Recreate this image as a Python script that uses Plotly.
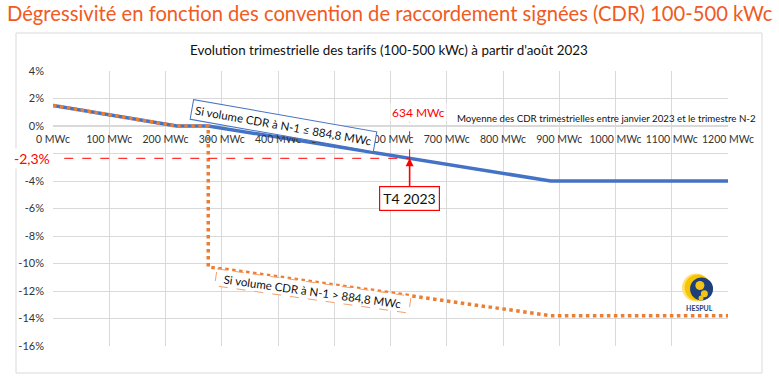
import math
import plotly.graph_objects as go

# ---------------- data ----------------
X_BLUE = [0, 220, 276, 884.8, 1200]
Y_BLUE = [1.5, 0, 0, -4, -4]
X_ORANGE = [0, 220, 276, 276, 884.8, 1200]
Y_ORANGE = [1.5, 0, 0, -10.25, -13.8, -13.8]

X_TICKS = [0, 100, 200, 300, 400, 500, 600, 700, 800, 900, 1000, 1100, 1200]
X_TICK_LABELS = ["0 MWc", "100 MWc", "200 MWc", "300 MWc", "400 MWc", "500 MWc", "600 MWc",
                 "700 MWc", "800 MWc", "900 MWc", "1000 MWc", "1100 MWc", "1200 MWc"]
Y_TICKS = [4, 2, 0, -2, -4, -6, -8, -10, -12, -14, -16]
Y_TICK_LABELS = ["4%", "2%", "0%", "", "-4%", "-6%", "-8%", "-10%", "-12%", "-14%", "-16%"]

CURRENT_MW = 634
CURRENT_PCT = -2.35
CURRENT_LABEL = "-2,3%"
CURRENT_MW_LABEL = "634 MWc"
QUARTER_LABEL = "T4 2023"

TITLE = "Dégressivité en fonction des convention de raccordement signées (CDR) 100-500 kWc"
SUBTITLE = "Evolution trimestrielle des tarifs (100-500 kWc) à partir d'août 2023"
XNOTE = "Moyenne des CDR trimestrielles entre janvier 2023 et le trimestre N-2"
LABEL_BLUE = "Si volume CDR à N-1 ≤ 884,8 MWc"
LABEL_ORANGE = "Si volume CDR à N-1 > 884,8 MWc"

# ---------------- styling ----------------
FONT = "Lato"
BLUE = "#4472C4"
ORANGE = "#ED7D31"
RED = "#FF0000"
GRID = "#D9D9D9"

W, H = 779, 381
L, R, T, B = 53, 51, 71, 35
PW, PH = W - L - R, H - T - B


def px_x(px):
    return (px - L) / PW


def px_y(py):
    return (H - B - py) / PH


fig = go.Figure()
fig.add_trace(go.Scatter(x=X_BLUE, y=Y_BLUE, mode="lines",
                         line=dict(color=BLUE, width=3.5), hoverinfo="skip"))
fig.add_trace(go.Scatter(x=X_ORANGE, y=Y_ORANGE, mode="lines",
                         line=dict(color=ORANGE, width=3.5, dash="dot"), hoverinfo="skip"))

shapes = []
# outer chart frame
shapes.append(dict(type="rect", xref="paper", yref="paper",
                   x0=px_x(16), x1=px_x(762), y0=px_y(373), y1=px_y(33),
                   line=dict(color="#D9D9D9", width=1), layer="below"))
# red dashed guides
shapes.append(dict(type="line", xref="x", yref="y", x0=20, x1=CURRENT_MW,
                   y0=CURRENT_PCT, y1=CURRENT_PCT,
                   line=dict(color=RED, width=1, dash="dash")))
shapes.append(dict(type="line", xref="x", yref="y", x0=CURRENT_MW, x1=CURRENT_MW,
                   y0=CURRENT_PCT, y1=0.3,
                   line=dict(color=RED, width=1, dash="dash")))

# dashed rotated box for the orange label
ox, oy = 462, -12.0
th = math.radians(8)
hl, hh = 98, 8.5
pts = []
for u, v in [(-hl, hh), (hl, hh), (hl, -hh), (-hl, -hh)]:
    xx = u * math.cos(th) + v * math.sin(th)
    yy = -u * math.sin(th) + v * math.cos(th)
    pts.append((xx, yy))
path = "M " + " L ".join(f"{a:.1f},{b:.1f}" for a, b in pts) + " Z"
shapes.append(dict(type="path", xref="x", yref="y", xsizemode="pixel", ysizemode="pixel",
                   xanchor=ox, yanchor=oy, path=path, fillcolor="white",
                   line=dict(color="#F4A06A", width=1, dash="dash"), layer="above"))

# HESPUL logo (approximation)
def circle(cx, cy, r, color):
    return dict(type="circle", xref="x", yref="y", xsizemode="pixel", ysizemode="pixel",
                xanchor=cx, yanchor=cy, x0=-r, x1=r, y0=-r, y1=r,
                fillcolor=color, line=dict(width=0), layer="above")

shapes.append(circle(1143, -11.75, 14, "#FCE17A"))
shapes.append(circle(1146, -11.75, 13, "#F6C400"))
shapes.append(circle(1153, -11.85, 11.5, "#1F3F7A"))
shapes.append(circle(1150, -11.6, 4.5, "#F3C316"))
shapes.append(circle(1158, -12.2, 3.5, "#F3C316"))
shapes.append(circle(1152, -12.5, 2.5, "#F3C316"))

annotations = [
    dict(text=TITLE, xref="paper", yref="paper", x=px_x(5), y=px_y(13),
         xanchor="left", yanchor="middle", showarrow=False,
         font=dict(family=FONT, size=20.2, color="#F15A22")),
    dict(text=SUBTITLE, xref="paper", yref="paper", x=px_x(389), y=px_y(50),
         xanchor="center", yanchor="middle", showarrow=False,
         font=dict(family=FONT, size=13.4, color="#111111")),
    dict(text=XNOTE, xref="paper", yref="paper", x=px_x(758), y=px_y(118),
         xanchor="right", yanchor="middle", showarrow=False,
         font=dict(family=FONT, size=9.7, color="#111111")),
    dict(text=CURRENT_MW_LABEL, xref="x", yref="y", x=(418 - L) / PW * 1200, y=1.0,
         xanchor="center", yanchor="middle", showarrow=False, bgcolor="white",
         font=dict(family=FONT, size=12, color=RED)),
    dict(text=CURRENT_LABEL, xref="paper", yref="y", x=px_x(32), y=CURRENT_PCT,
         xanchor="center", yanchor="middle", showarrow=False, bgcolor="white",
         font=dict(family=FONT, size=14, color=RED)),
    dict(text=LABEL_BLUE, xref="x", yref="y", x=409, y=0.05, textangle=10,
         showarrow=False, bgcolor="white", bordercolor=BLUE, borderwidth=1, borderpad=3,
         font=dict(family=FONT, size=11.5, color="#111111")),
    dict(text=LABEL_ORANGE, xref="x", yref="y", x=ox, y=oy, textangle=8,
         showarrow=False,
         font=dict(family=FONT, size=11.5, color="#111111")),
    dict(text=QUARTER_LABEL, xref="x", yref="y", x=CURRENT_MW, y=CURRENT_PCT,
         ax=0, ay=40, showarrow=True, arrowhead=2, arrowsize=1, arrowwidth=1.6,
         arrowcolor=RED, bgcolor="white", bordercolor=RED, borderwidth=1.2, borderpad=3,
         font=dict(family=FONT, size=14, color="#111111")),
    dict(text="<b>HESPUL</b>", xref="x", yref="y", x=1149, y=-13.25,
         xanchor="center", yanchor="middle", showarrow=False,
         font=dict(family=FONT, size=7, color="#1F3F7A")),
]

fig.update_layout(
    width=W, height=H,
    margin=dict(l=L, r=R, t=T, b=B, autoexpand=False),
    paper_bgcolor="white", plot_bgcolor="white",
    showlegend=False,
    shapes=shapes, annotations=annotations,
    xaxis=dict(range=[0, 1200], tickvals=X_TICKS, ticktext=X_TICK_LABELS,
               showgrid=True, gridcolor=GRID, gridwidth=1, zeroline=False,
               showline=False, anchor="free", position=0.8, ticks="",
               ticklabelstandoff=5, tickangle=0, automargin=False,
               tickfont=dict(family=FONT, size=10.5, color="#333333")),
    yaxis=dict(range=[-16, 4], tickvals=Y_TICKS, ticktext=Y_TICK_LABELS,
               showgrid=True, gridcolor=GRID, gridwidth=1,
               zeroline=True, zerolinecolor=GRID, zerolinewidth=1.5,
               showline=False, ticks="", ticklabelstandoff=8, automargin=False,
               tickfont=dict(family=FONT, size=11, color="#333333")),
)

fig.write_html("out.html", config={"displayModeBar": False},
               post_script="document.body.style.margin='0';document.body.style.overflow='hidden';")
